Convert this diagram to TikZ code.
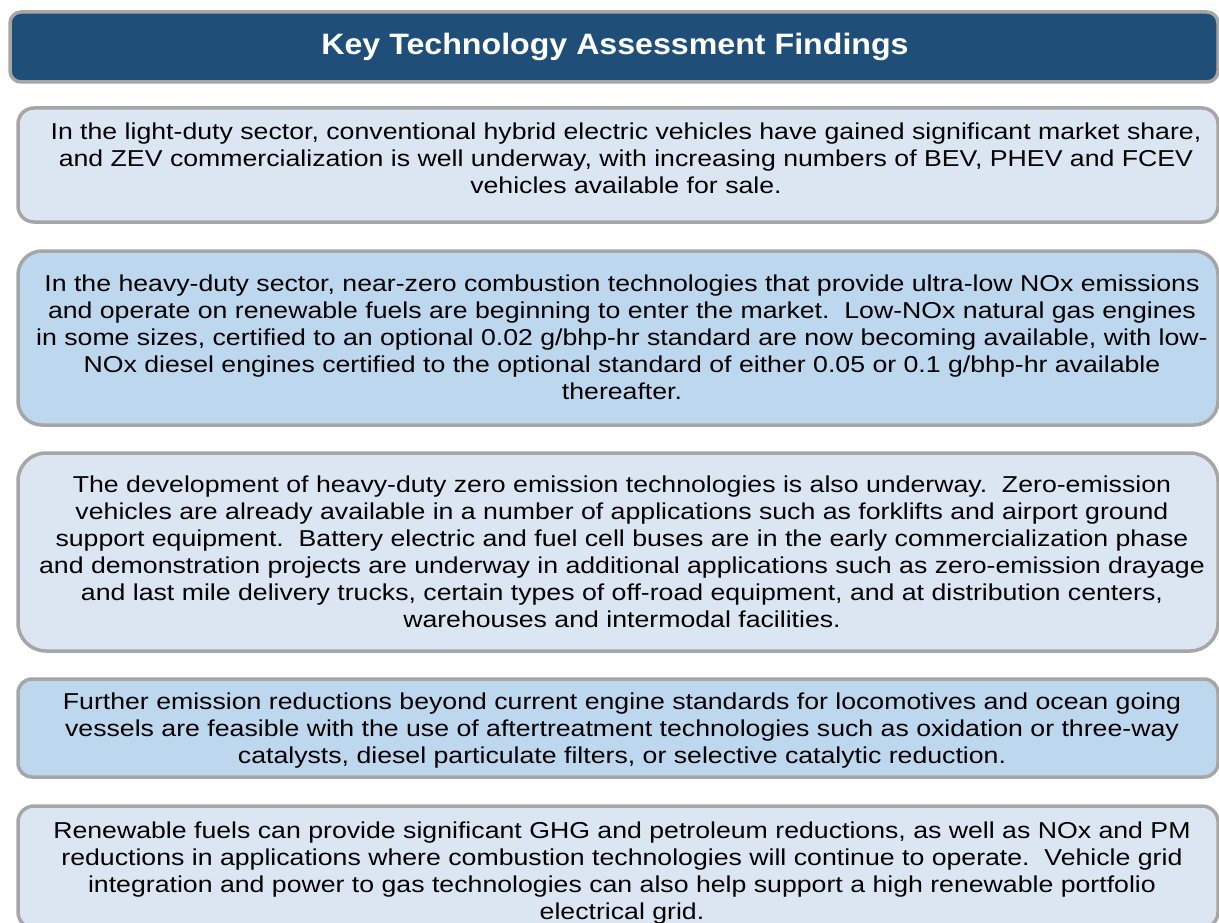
\documentclass[tikz,border=0pt]{standalone}
\usepackage{fontspec}
\setmainfont[FakeStretch=1.16]{Liberation Sans}
\newfontfamily\titlefont[FakeStretch=1.09]{Liberation Sans}
\definecolor{titleblue}{HTML}{1F4E79}
\definecolor{lightfill}{HTML}{DCE6F2}
\definecolor{midfill}{HTML}{BDD7EE}
\definecolor{bordergray}{HTML}{A6A6A6}
\tikzset{
  findbox/.style={draw=bordergray, line width=3.5pt, inner sep=0pt, minimum width=1200pt},
  titlebox/.style={draw=bordergray, line width=3.5pt, fill=titleblue, rounded corners=11pt, inner sep=0pt},
  bodytext/.style={align=center, inner sep=0pt, font=\fontsize{23}{27}\selectfont, text=black},
}
\begin{document}
\begin{tikzpicture}[x=1pt,y=-1pt]
\useasboundingbox (0,0) rectangle (1219,923);
\node[titlebox, minimum width=1208pt, minimum height=70pt] (title) at (614,47) {};
\node[text=white, font=\titlefont\fontsize{29.5}{34}\selectfont\bfseries] (titletext) at (615,47) {Key Technology Assessment Findings};

\node[findbox, fill=lightfill, rounded corners=16pt, minimum height=114pt] (b1) at (618,165) {};
\node[bodytext] (t1) at (626,158) {In the light-duty sector, conventional hybrid electric vehicles have gained significant market share,\\ and ZEV commercialization is well underway, with increasing numbers of BEV, PHEV and FCEV\\ vehicles available for sale.};

\node[findbox, fill=midfill, rounded corners=24pt, minimum height=174pt] (b2) at (618,338) {};
\node[bodytext] (t2) at (622,337) {In the heavy-duty sector, near-zero combustion technologies that provide ultra-low NOx emissions\\ and operate on renewable fuels are beginning to enter the market.\ \ Low-NOx natural gas engines\\ in some sizes, certified to an optional 0.02 g/bhp-hr standard are now becoming available, with low-\\ NOx diesel engines certified to the optional standard of either 0.05 or 0.1 g/bhp-hr available\\ thereafter.};

\node[findbox, fill=lightfill, rounded corners=28pt, minimum height=198pt] (b3) at (618,552) {};
\node[bodytext] (t3) at (622,551.5) {The development of heavy-duty zero emission technologies is also underway.\ \ Zero-emission\\ vehicles are already available in a number of applications such as forklifts and airport ground\\ support equipment.\ \ Battery electric and fuel cell buses are in the early commercialization phase\\ and demonstration projects are underway in additional applications such as zero-emission drayage\\ and last mile delivery trucks, certain types of off-road equipment, and at distribution centers,\\ warehouses and intermodal facilities.};

\node[findbox, fill=midfill, rounded corners=14pt, minimum height=98pt] (b4) at (618,728) {};
\node[bodytext] (t4) at (622,731) {Further emission reductions beyond current engine standards for locomotives and ocean going\\ vessels are feasible with the use of aftertreatment technologies such as oxidation or three-way\\ catalysts, diesel particulate filters, or selective catalytic reduction.};

\node[findbox, fill=lightfill, rounded corners=16pt, minimum height=122pt] (b5) at (618,867) {};
\node[bodytext] (t5) at (622,873) {Renewable fuels can provide significant GHG and petroleum reductions, as well as NOx and PM\\ reductions in applications where combustion technologies will continue to operate.\ \ Vehicle grid\\ integration and power to gas technologies can also help support a high renewable portfolio\\ electrical grid.};
\end{tikzpicture}
\end{document}
